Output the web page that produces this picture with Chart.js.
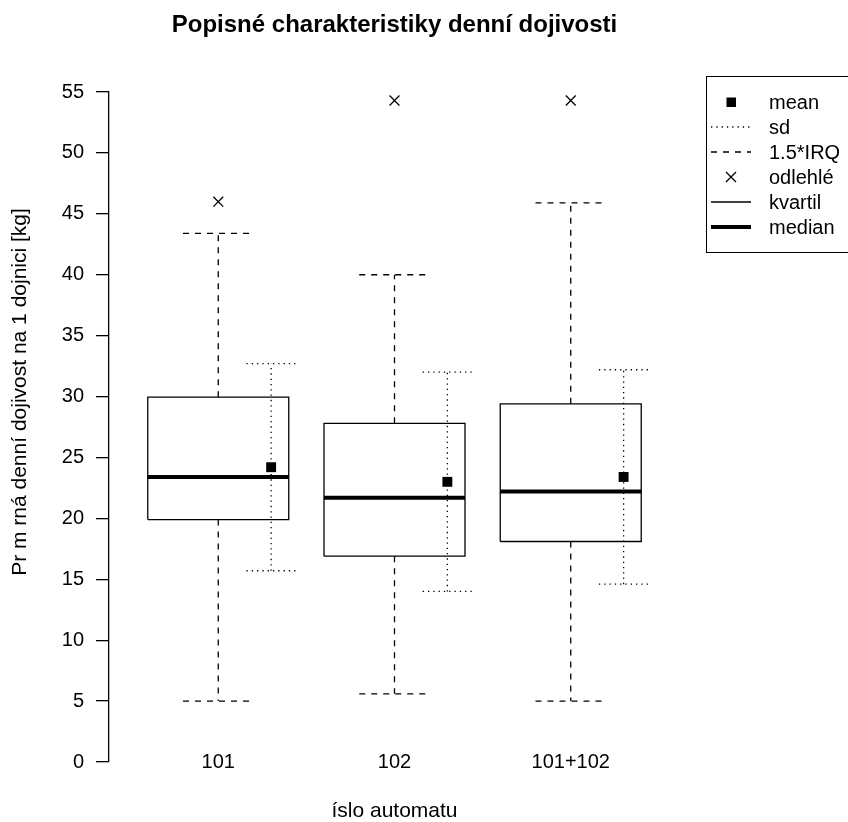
<!DOCTYPE html>
<html>
<head>
<meta charset="utf-8">
<script src="https://cdn.jsdelivr.net/npm/chart.js@4.4.0/dist/chart.umd.min.js"></script>
<style>
  html, body { margin:0; padding:0; background:#fff; }
  #wrap { position:relative; width:848px; height:822px; overflow:hidden; font-family:"Liberation Sans", Arial, sans-serif; }
  #legend { position:absolute; left:706px; top:76px; width:170px; height:177px; border:1px solid #000; box-sizing:border-box; padding-top:12.5px; }
  #legend .row { display:flex; align-items:center; height:25px; font-size:20px; color:#000; }
  #legend svg { width:48px; height:14px; flex:none; }
  #legend span { margin-left:14px; }
</style>
</head>
<body>
<div id="wrap">
  <canvas id="box-chart" width="848" height="822"></canvas>
  <div id="legend">
    <div class="row"><svg><rect x="19.5" y="2.5" width="9.5" height="9.5" fill="#000"/></svg><span>mean</span></div>
    <div class="row"><svg><line x1="4" y1="7" x2="44" y2="7" stroke="#000" stroke-width="1.3" stroke-dasharray="1.3 4"/></svg><span>sd</span></div>
    <div class="row"><svg><line x1="4" y1="7" x2="44" y2="7" stroke="#000" stroke-width="1.3" stroke-dasharray="6 6"/></svg><span>1.5*IRQ</span></div>
    <div class="row"><svg><path d="M19 2 L29 12 M29 2 L19 12" stroke="#000" stroke-width="1.3"/></svg><span>odlehlé</span></div>
    <div class="row"><svg><line x1="4" y1="7" x2="44" y2="7" stroke="#000" stroke-width="1.3"/></svg><span>kvartil</span></div>
    <div class="row"><svg><line x1="4" y1="7" x2="44" y2="7" stroke="#000" stroke-width="4"/></svg><span>median</span></div>
  </div>
</div>
<script>
const categories = ['101', '102', '101+102'];
const q1 = [19.9, 16.9, 18.1];
const medians = [23.4, 21.7, 22.2];
const q3 = [29.95, 27.8, 29.4];
const whiskerLow = [5.0, 5.6, 5.0];
const whiskerHigh = [43.4, 40.0, 45.9];
const outliers = [46.0, 54.3, 54.3];
const means = [24.2, 23.0, 23.4];
const sds = [8.5, 9.0, 8.8];
const yTicks = [0, 5, 10, 15, 20, 25, 30, 35, 40, 45, 50, 55];

// R-like geometry, in x-axis units
const boxHalf = 0.4, capHalf = 0.2, meanShift = 0.3, sdCapHalf = 0.14;
const FONT = '"Liberation Sans", Arial, sans-serif';

// turn a list of polylines into one point list with gaps
function segs(lines) {
  const out = [];
  lines.forEach(l => {
    l.forEach(p => out.push({x: p[0], y: p[1]}));
    out.push({x: l[l.length - 1][0], y: null});
  });
  return out;
}

const pos = categories.map((c, i) => i + 1);

const boxLines = pos.map((x, i) => [
  [x - boxHalf, q1[i]], [x + boxHalf, q1[i]], [x + boxHalf, q3[i]], [x - boxHalf, q3[i]], [x - boxHalf, q1[i]]
]);
const medianLines = pos.map((x, i) => [[x - boxHalf, medians[i]], [x + boxHalf, medians[i]]]);
const whiskerLines = [];
pos.forEach((x, i) => {
  whiskerLines.push([[x, q3[i]], [x, whiskerHigh[i]]]);
  whiskerLines.push([[x - capHalf, whiskerHigh[i]], [x + capHalf, whiskerHigh[i]]]);
  whiskerLines.push([[x, q1[i]], [x, whiskerLow[i]]]);
  whiskerLines.push([[x - capHalf, whiskerLow[i]], [x + capHalf, whiskerLow[i]]]);
});
const sdLines = [];
pos.forEach((x, i) => {
  const mx = x + meanShift;
  sdLines.push([[mx, means[i] - sds[i]], [mx, means[i] + sds[i]]]);
  sdLines.push([[mx - sdCapHalf, means[i] + sds[i]], [mx + sdCapHalf, means[i] + sds[i]]]);
  sdLines.push([[mx - sdCapHalf, means[i] - sds[i]], [mx + sdCapHalf, means[i] - sds[i]]]);
});

const lineDefaults = { showLine: true, pointRadius: 0, borderColor: '#000', backgroundColor: '#000', fill: false, clip: false };

const yTitle = {
  id: 'yTitle',
  afterDraw(chart) {
    const ctx = chart.ctx;
    ctx.save();
    ctx.translate(20, 392);
    ctx.rotate(-Math.PI / 2);
    ctx.font = '21px ' + FONT;
    ctx.fillStyle = '#000';
    ctx.textAlign = 'center';
    ctx.textBaseline = 'middle';
    ctx.fillText('Pr m rná denní dojivost na 1 dojnici [kg]', 0, 0);
    ctx.restore();
  }
};

new Chart(document.getElementById('box-chart'), {
  type: 'scatter',
  data: {
    datasets: [
      { ...lineDefaults, label: 'kvartil', data: segs(boxLines), borderWidth: 1.3 },
      { ...lineDefaults, label: 'median', data: segs(medianLines), borderWidth: 4 },
      { ...lineDefaults, label: '1.5*IRQ', data: segs(whiskerLines), borderWidth: 1.3, borderDash: [6, 6] },
      { ...lineDefaults, label: 'sd', data: segs(sdLines), borderWidth: 1.3, borderDash: [1.3, 4] },
      { label: 'mean', data: pos.map((x, i) => ({x: x + meanShift, y: means[i]})),
        pointStyle: 'rect', pointRadius: 7, backgroundColor: '#000', borderWidth: 0, clip: false },
      { label: 'odlehlé', data: pos.map((x, i) => ({x: x, y: outliers[i]})),
        pointStyle: 'crossRot', pointRadius: 7, borderColor: '#000', borderWidth: 1.3, clip: false }
    ]
  },
  options: {
    responsive: false,
    devicePixelRatio: 1,
    animation: false,
    layout: { padding: { top: 0, left: 0, right: 168, bottom: 0 } },
    plugins: {
      legend: { display: false },
      tooltip: { enabled: false },
      title: {
        display: true,
        text: 'Popisné charakteristiky denní dojivosti',
        fullSize: false,
        color: '#000',
        font: { family: FONT, size: 24, weight: 'bold' },
        padding: { top: 11, bottom: 52.2 }
      }
    },
    scales: {
      x: {
        type: 'linear', min: 0.38, max: 3.62,
        afterBuildTicks: s => { s.ticks = pos.map(v => ({value: v})); },
        afterFit: s => { s.height = 60; },
        grid: { display: false, drawTicks: false },
        border: { display: false },
        // mirror keeps the labels unclipped so they can sit level with the 0 tick, as in the original
        ticks: { callback: v => categories[v - 1], color: '#000', font: { family: FONT, size: 20 }, mirror: true, padding: -12, autoSkip: false, maxRotation: 0 },
        title: { display: true, text: 'íslo automatu', color: '#000', font: { family: FONT, size: 21, lineHeight: 1 }, padding: 0 }
      },
      y: {
        type: 'linear', min: 0, max: 55,
        afterBuildTicks: s => { s.ticks = yTicks.map(v => ({value: v})); },
        afterFit: s => { s.width = 109; },
        grid: { drawOnChartArea: false, drawTicks: true, tickLength: 13, color: '#000', lineWidth: 1.3 },
        border: { display: true, color: '#000', width: 1.3 },
        ticks: { color: '#000', font: { family: FONT, size: 20 }, padding: 12 }
      }
    }
  },
  plugins: [yTitle]
});
</script>
</body>
</html>
